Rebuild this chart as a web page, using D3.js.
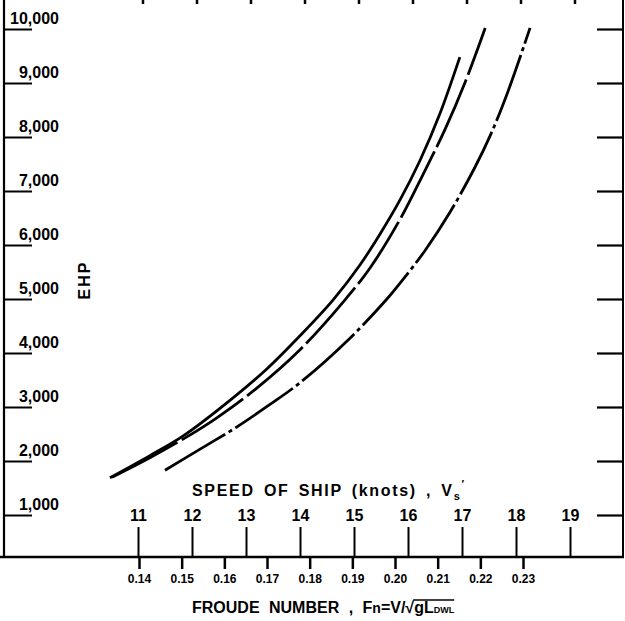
<!DOCTYPE html>
<html>
<head>
<meta charset="utf-8">
<script src="https://cdn.jsdelivr.net/npm/d3@7"></script>
<style>
  html, body { margin: 0; padding: 0; background: #fff; }
  svg { display: block; }
  text { fill: #000; font-family: "Liberation Sans", Arial, sans-serif; }
</style>
</head>
<body>
<svg id="chart" width="625" height="621"></svg>
<script>
// EHP against ship speed, three resistance curves
const speedTicks  = [11, 12, 13, 14, 15, 16, 17, 18, 19];
const froudeTicks = [0.14, 0.15, 0.16, 0.17, 0.18, 0.19, 0.20, 0.21, 0.22, 0.23];
const ehpTicks    = [1000, 2000, 3000, 4000, 5000, 6000, 7000, 8000, 9000, 10000];

// solid curve
const solidSpeed = [10.48, 11.22, 11.83, 12.76, 13.39, 14.0, 14.61, 15.11, 15.48, 15.85, 16.22, 16.59, 16.96];
const solidEhp   = [1690, 2100, 2460, 3170, 3710, 4320, 4980, 5630, 6200, 6830, 7560, 8430, 9480];
// long-dash curve
const dashSpeed  = [10.52, 11.22, 11.96, 12.46, 13.2, 14.0, 14.83, 15.3, 15.85, 16.31, 16.69, 17.06, 17.43];
const dashEhp    = [1700, 2060, 2480, 2800, 3350, 4060, 4980, 5580, 6470, 7370, 8150, 9020, 10020];
// dash-dot curve
const dotSpeed   = [11.5, 12.15, 12.83, 13.39, 14.0, 14.93, 15.61, 15.85, 16.31, 16.78, 17.24, 17.52, 17.85, 18.26];
const dotEhp     = [1830, 2220, 2630, 3010, 3450, 4280, 5000, 5290, 5890, 6610, 7440, 8020, 8840, 10020];

const svg = d3.select("#chart");

const x = d3.scaleLinear().domain([11, 19]).range([138, 570]);
const xF = d3.scaleLinear().domain([0.14, 0.23]).range([139, 523]);
const y = d3.scaleLinear().domain([0, 10000]).range([569, 29]);

const axisY = 557, leftX = 4, rightX = 623;

// frame: left axis, bottom axis, right border
svg.append("line").attr("x1", leftX).attr("x2", leftX).attr("y1", 0).attr("y2", axisY + 1)
  .attr("stroke", "#000").attr("stroke-width", 2.2);
svg.append("line").attr("x1", 0).attr("x2", rightX + 1).attr("y1", axisY).attr("y2", axisY)
  .attr("stroke", "#000").attr("stroke-width", 2.4);
svg.append("line").attr("x1", rightX).attr("x2", rightX).attr("y1", 0).attr("y2", axisY + 1)
  .attr("stroke", "#000").attr("stroke-width", 2);

// left EHP axis: ticks with labels sitting above each tick
const leftAxis = d3.axisRight(y).tickValues(ehpTicks).tickSize(28).tickFormat("");
const gl = svg.append("g").attr("transform", `translate(${leftX},0)`).call(leftAxis);
gl.select(".domain").remove();
gl.selectAll(".tick line").attr("stroke", "#000").attr("stroke-width", 2);
svg.append("g").selectAll("text").data(ehpTicks).join("text")
  .attr("x", 59).attr("y", d => y(d) - 5)
  .attr("text-anchor", "end")
  .attr("font-size", 16).attr("font-weight", "bold")
  .text(d => d3.format(",")(d));

// right border ticks
const rightAxis = d3.axisLeft(y).tickValues(ehpTicks).tickSize(26).tickFormat("");
const gr = svg.append("g").attr("transform", `translate(${rightX},0)`).call(rightAxis);
gr.select(".domain").remove();
gr.selectAll(".tick line").attr("stroke", "#000").attr("stroke-width", 2.2);

// short marks along the top edge
svg.append("g").selectAll("line").data(speedTicks).join("line")
  .attr("x1", d => x(d) + 5).attr("x2", d => x(d) + 5)
  .attr("y1", 0).attr("y2", 4)
  .attr("stroke", "#000").attr("stroke-width", 2.5);

// speed axis: ticks rising from the base line
const speedAxis = d3.axisTop(x).tickValues(speedTicks).tickSize(30).tickPadding(6).tickFormat(d3.format("d"));
const gs = svg.append("g").attr("transform", `translate(0,${axisY})`).call(speedAxis);
gs.select(".domain").remove();
gs.selectAll(".tick line").attr("stroke", "#000").attr("stroke-width", 2);
gs.selectAll(".tick text").attr("font-size", 16).attr("font-weight", "bold")
  .attr("font-family", "'Liberation Sans', Arial, sans-serif").attr("fill", "#000");

// Froude number axis: ticks hanging below the base line
const froudeAxis = d3.axisBottom(xF).tickValues(froudeTicks).tickSize(12).tickPadding(5).tickFormat(d3.format(".2f"));
const gf = svg.append("g").attr("transform", `translate(0,${axisY})`).call(froudeAxis);
gf.select(".domain").remove();
gf.selectAll(".tick line").attr("stroke", "#000").attr("stroke-width", 2.5);
gf.selectAll(".tick text").attr("font-size", 12).attr("font-weight", "bold")
  .attr("font-family", "'Liberation Sans', Arial, sans-serif").attr("fill", "#000");

// curves
const line = d3.line().x(d => x(d[0])).y(d => y(d[1])).curve(d3.curveCatmullRom.alpha(0.5));
const series = [
  { v: solidSpeed, e: solidEhp, dash: null },
  { v: dashSpeed,  e: dashEhp,  dash: "74 5" },
  { v: dotSpeed,   e: dotEhp,   dash: "70 4 4 4" }
];
svg.append("g").selectAll("path").data(series).join("path")
  .attr("d", s => line(d3.zip(s.v, s.e)))
  .attr("fill", "none").attr("stroke", "#000").attr("stroke-width", 2.8)
  .attr("stroke-dasharray", s => s.dash);

// EHP title
svg.append("text")
  .attr("transform", "translate(90,280) rotate(-90)")
  .attr("text-anchor", "middle")
  .attr("font-size", 16).attr("font-weight", "bold").attr("letter-spacing", 2)
  .text("EHP");

// speed title
const st = svg.append("text").attr("x", 192).attr("y", 496)
  .attr("font-size", 16).attr("font-weight", "bold")
  .attr("letter-spacing", 1.7).attr("word-spacing", 3);
st.append("tspan").text("SPEED OF SHIP (knots) , V");
st.append("tspan").attr("font-size", 11).attr("dy", 4).text("s");
st.append("tspan").attr("font-size", 11).attr("dy", -12).text("′");

// Froude title with formula
const ft = svg.append("text").attr("x", 192).attr("y", 613)
  .attr("font-size", 16).attr("font-weight", "bold");
ft.append("tspan").attr("word-spacing", 5).text("FROUDE NUMBER , F");
ft.append("tspan").attr("font-size", 14).text("n");
ft.append("tspan").text("=V/√gL");
ft.append("tspan").attr("font-size", 9).text("DWL");

// bar over the radicand
const node = ft.node();
const total = node.getNumberOfChars();
const rootIdx = ft.text().indexOf("√");
const a = node.getExtentOfChar(rootIdx);
const b = node.getExtentOfChar(total - 1);
svg.append("line")
  .attr("x1", a.x + a.width - 1).attr("x2", b.x + b.width)
  .attr("y1", a.y + 1).attr("y2", a.y + 1)
  .attr("stroke", "#000").attr("stroke-width", 1.6);
</script>
</body>
</html>
